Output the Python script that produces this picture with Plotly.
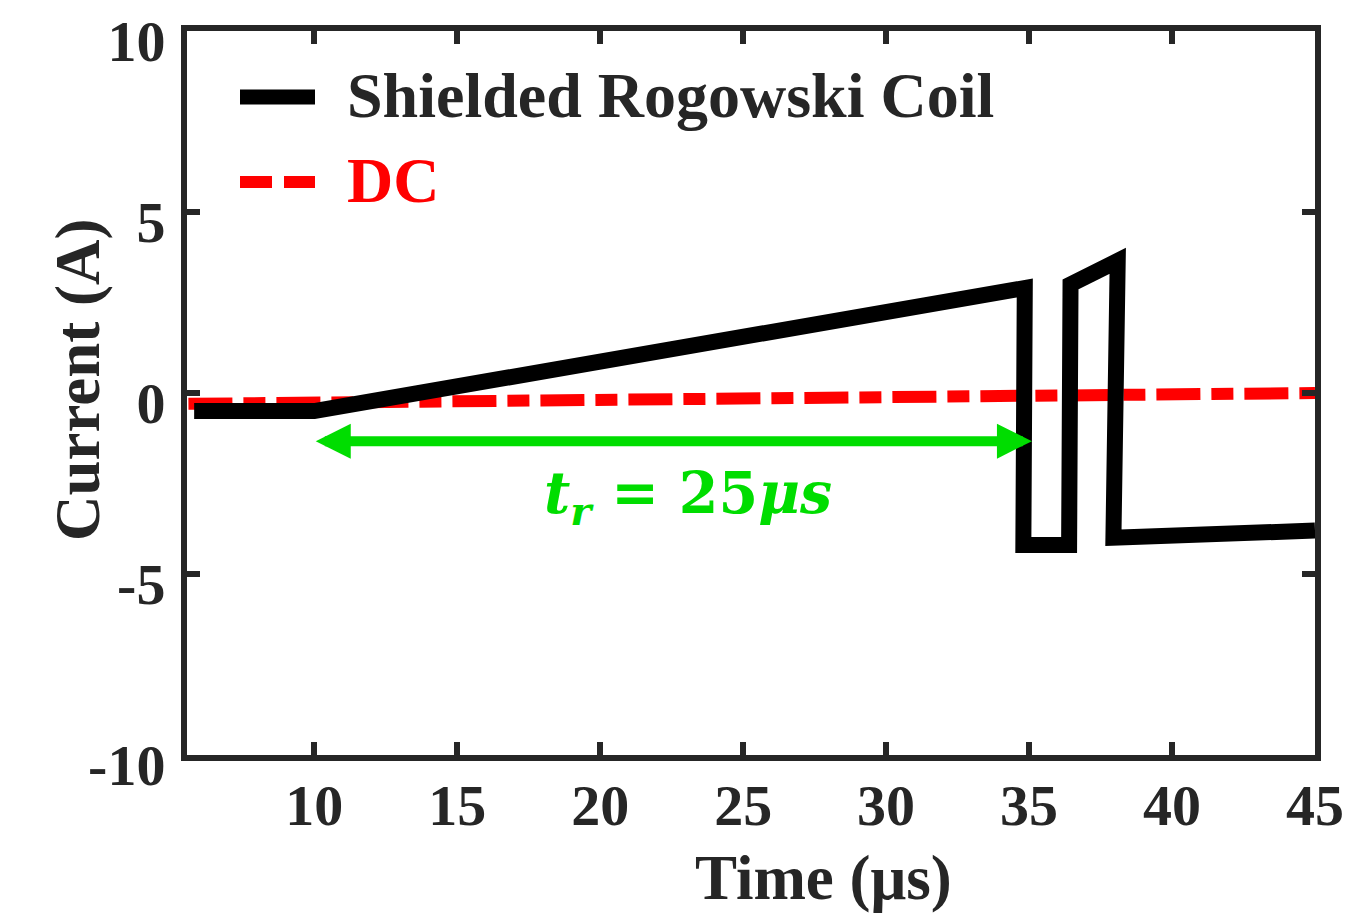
import plotly.graph_objects as go

# Data
rogowski_t = [5.8, 10.0, 34.85, 34.8, 36.4, 36.45, 38.1, 37.95, 45.0]
rogowski_i = [-0.5, -0.5, 2.9, -4.2, -4.2, 3.0, 3.65, -4.0, -3.8]
dc_t = [5.6, 45.0]
dc_i = [-0.3, 0.0]
x_ticks = [10, 15, 20, 25, 30, 35, 40, 45]
y_ticks = [-10, -5, 0, 5, 10]
arrow_start, arrow_end, arrow_level = 10.0, 35.1, -1.33

AX = '#262626'
SERIF = 'Liberation Serif'
OFF = 8  # page body margin

fig = go.Figure()
fig.add_trace(go.Scatter(x=dc_t, y=dc_i, mode='lines', name='DC',
                         line=dict(color='#FF0000', width=12, dash='44px,11px,22px,11px'),
                         showlegend=False))
fig.add_trace(go.Scatter(x=rogowski_t, y=rogowski_i, mode='lines', name='Shielded Rogowski Coil',
                         line=dict(color='black', width=16), showlegend=False))

# double arrow
fig.add_annotation(x=arrow_end, y=arrow_level, ax=arrow_start, ay=arrow_level,
                   xref='x', yref='y', axref='x', ayref='y', text='',
                   showarrow=True, arrowside='end+start', arrowhead=2, startarrowhead=2,
                   arrowsize=0.7, startarrowsize=0.7, arrowwidth=10, arrowcolor='#00DD00',
                   standoff=0, startstandoff=0)
fig.add_annotation(x=23.08, y=-2.87, xref='x', yref='y', showarrow=False,
                   text='<b><i>t</i><sub><i>r</i></sub> = 25<i>μs</i></b>',
                   font=dict(family='DejaVu Serif', size=57, color='#00DD00'))

# legend drawn manually (positions in reference pixels)
W, H = 1128.0, 724.0
def px(xp):
    return (xp - 187) / W
def py(yp):
    return (755 - yp) / H

fig.add_shape(type='line', xref='paper', yref='paper', x0=px(240), x1=px(315), y0=py(97), y1=py(97),
              line=dict(color='black', width=15))
fig.add_shape(type='line', xref='paper', yref='paper', x0=px(240), x1=px(315), y0=py(182), y1=py(182),
              line=dict(color='#FF0000', width=12, dash='32px,12px'))
fig.add_annotation(x=px(345), y=py(96), xref='paper', yref='paper', xanchor='left', yanchor='middle',
                   showarrow=False, text='Shielded Rogowski Coil',
                   font=dict(family=SERIF, size=64, color=AX, weight='bold'))
fig.add_annotation(x=px(345), y=py(181), xref='paper', yref='paper', xanchor='left', yanchor='middle',
                   showarrow=False, text='DC',
                   font=dict(family=SERIF, size=64, color='#FF0000', weight='bold'))

# axis titles
fig.add_annotation(x=px(823), y=py(878), xref='paper', yref='paper', xanchor='center', yanchor='middle',
                   showarrow=False, text='Time (μs)',
                   font=dict(family=SERIF, size=63, color=AX, weight='bold'))
fig.add_annotation(x=px(78), y=py(380), xref='paper', yref='paper', xanchor='center', yanchor='middle',
                   showarrow=False, text='Current (A)', textangle=-90,
                   font=dict(family=SERIF, size=63, color=AX, weight='bold'))

axis_common = dict(showline=True, linecolor=AX, linewidth=6, mirror='ticks',
                   ticks='inside', ticklen=13, tickwidth=6, tickcolor=AX,
                   showgrid=False, zeroline=False, ticklabeloverflow='allow',
                   automargin=False,
                   tickfont=dict(family=SERIF, size=58, color=AX, weight='bold'))

fig.update_xaxes(range=[5.55, 45], tickvals=x_ticks, ticktext=[str(v) for v in x_ticks],
                 ticklabelstandoff=-6, **axis_common)
fig.update_yaxes(range=[-10, 10], tickvals=y_ticks, ticktext=[str(v) for v in y_ticks],
                 ticklabelstandoff=4, ticklabelshift=10, **axis_common)

fig.update_layout(width=1365 - OFF, height=914 - OFF,
                  margin=dict(l=187 - OFF, r=50, t=31 - OFF, b=159, autoexpand=False),
                  plot_bgcolor='white', paper_bgcolor='white', showlegend=False)

fig.write_html('out.html')
